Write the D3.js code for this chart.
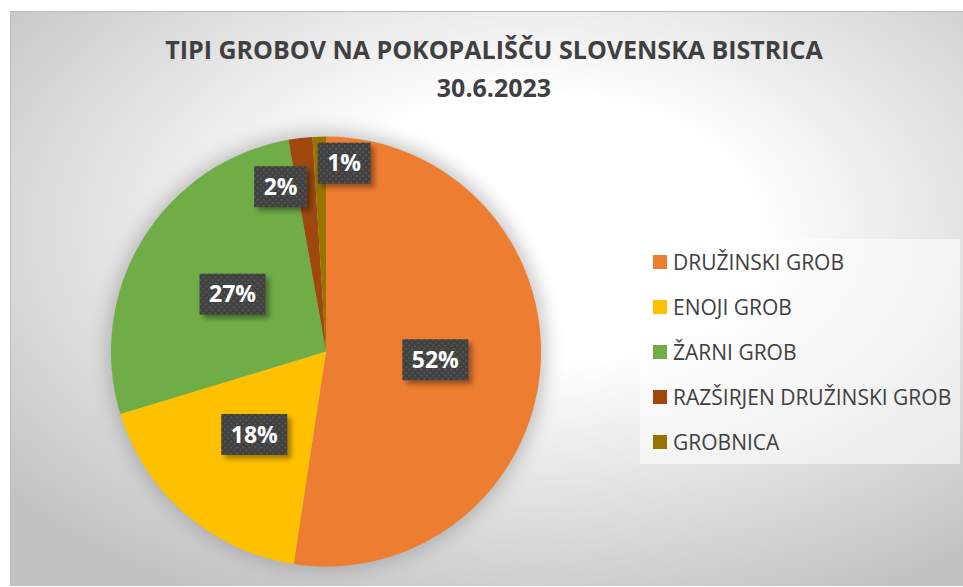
<!DOCTYPE html>
<html>
<head>
<meta charset="utf-8">
<script src="https://cdn.jsdelivr.net/npm/d3@7"></script>
<style>
  html, body { margin: 0; padding: 0; background: #fff; }
  svg { display: block; }
</style>
</head>
<body>
<svg id="chart" width="963" height="587"></svg>
<script>
// Grave types at the Slovenska Bistrica cemetery, share of all graves (%)
const categories = ["DRUŽINSKI GROB", "ENOJI GROB", "ŽARNI GROB", "RAZŠIRJEN DRUŽINSKI GROB", "GROBNICA"];
const shares = [52.4, 17.9, 26.9, 1.8, 1.0];
const colors = ["#ED7D31", "#FFC000", "#70AD47", "#9E480E", "#997300"];
const titleLines = ["TIPI GROBOV NA POKOPALIŠČU SLOVENSKA BISTRICA", "30.6.2023"];

const W = 963, H = 587;
const svg = d3.select("#chart");
const defs = svg.append("defs");

// chart area background: soft radial grey-to-white fill
const bg = defs.append("radialGradient").attr("id", "bgGrad")
  .attr("cx", "0.55").attr("cy", "0.38").attr("r", "0.72");
bg.append("stop").attr("offset", "0").attr("stop-color", "#ffffff");
bg.append("stop").attr("offset", "0.32").attr("stop-color", "#ffffff");
bg.append("stop").attr("offset", "1").attr("stop-color", "#c2c2c2");

// dotted fill for the value label boxes
const pat = defs.append("pattern").attr("id", "dots")
  .attr("patternUnits", "userSpaceOnUse").attr("width", 6).attr("height", 6);
pat.append("rect").attr("width", 6).attr("height", 6).attr("fill", "#404040");
pat.append("rect").attr("x", 0).attr("y", 0).attr("width", 2).attr("height", 2).attr("fill", "#575757");
pat.append("rect").attr("x", 3).attr("y", 3).attr("width", 2).attr("height", 2).attr("fill", "#575757");

const pieShadow = defs.append("filter").attr("id", "pieShadow")
  .attr("x", "-20%").attr("y", "-20%").attr("width", "140%").attr("height", "140%");
pieShadow.append("feGaussianBlur").attr("stdDeviation", 9);

const boxShadow = defs.append("filter").attr("id", "boxShadow")
  .attr("x", "-30%").attr("y", "-30%").attr("width", "160%").attr("height", "160%");
boxShadow.append("feGaussianBlur").attr("stdDeviation", 2.5);

// chart frame
const area = { x: 10, y: 11, w: W - 10, h: H - 12 };
svg.append("rect").attr("x", area.x).attr("y", area.y)
  .attr("width", area.w).attr("height", area.h)
  .attr("fill", "url(#bgGrad)");
svg.append("line").attr("x1", area.x).attr("x2", W).attr("y1", area.y + 0.5).attr("y2", area.y + 0.5)
  .attr("stroke", "#bdbdbd").attr("stroke-width", 1);
svg.append("line").attr("x1", area.x + 0.5).attr("x2", area.x + 0.5).attr("y1", area.y).attr("y2", area.y + area.h)
  .attr("stroke", "#bdbdbd").attr("stroke-width", 1);

// title
const title = svg.append("text").attr("text-anchor", "middle")
  .attr("font-family", "'Open Sans', sans-serif").attr("font-weight", 700)
  .attr("font-size", 25).attr("fill", "#404040");
title.selectAll("tspan").data(titleLines).join("tspan")
  .attr("x", 494).attr("y", (d, i) => 59 + i * 38)
  .text(d => d);

// pie
const cx = 326, cy = 351.5, R = 215;
const pie = d3.pie().sort(null).value(d => d).startAngle(0).endAngle(2 * Math.PI);
const arcs = pie(shares);
const arc = d3.arc().innerRadius(0).outerRadius(R);

const g = svg.append("g").attr("transform", `translate(${cx},${cy})`);
g.append("circle").attr("r", R + 5).attr("fill", "#8a8a8a").attr("opacity", 0.5)
  .attr("filter", "url(#pieShadow)");
g.selectAll("path.slice").data(arcs).join("path")
  .attr("class", "slice")
  .attr("d", arc)
  .attr("fill", (d, i) => colors[i]);

// value labels: centred inside large slices, nudged outward for thin ones
const labelRadius = 0.51;
const labelNudge = { 3: { angle: -15.4, frac: 0.795 }, 4: { angle: 5.5, frac: 0.88 } };
const fmt = d3.format(".0%");
const total = d3.sum(shares);

const labels = g.selectAll("g.lbl").data(arcs).join("g").attr("class", "lbl")
  .attr("transform", (d, i) => {
    let a = (d.startAngle + d.endAngle) / 2, f = labelRadius;
    if (labelNudge[i]) { a = labelNudge[i].angle * Math.PI / 180; f = labelNudge[i].frac; }
    return `translate(${Math.sin(a) * R * f},${-Math.cos(a) * R * f})`;
  });

labels.each(function (d) {
  const sel = d3.select(this);
  const t = sel.append("text").attr("text-anchor", "middle").attr("dy", "0.36em")
    .attr("font-family", "'Open Sans', sans-serif").attr("font-weight", 700)
    .attr("font-size", 23).attr("fill", "#ffffff")
    .text(fmt(d.data / total));
  const bb = t.node().getBBox();
  const bw = Math.round(bb.width + 19), bh = 41;
  sel.insert("rect", "text").attr("x", -bw / 2 + 4).attr("y", -bh / 2 + 4)
    .attr("width", bw).attr("height", bh).attr("fill", "#000").attr("opacity", 0.35)
    .attr("filter", "url(#boxShadow)");
  sel.insert("rect", "text").attr("x", -bw / 2).attr("y", -bh / 2)
    .attr("width", bw).attr("height", bh).attr("fill", "url(#dots)");
});

// legend
const lg = svg.append("g");
lg.append("rect").attr("x", 640).attr("y", 239).attr("width", 320).attr("height", 225)
  .attr("fill", "#ffffff").attr("opacity", 0.55);
const items = lg.selectAll("g.item").data(categories).join("g").attr("class", "item")
  .attr("transform", (d, i) => `translate(653,${262 + i * 45})`);
items.append("rect").attr("x", 0).attr("y", -7).attr("width", 14).attr("height", 14)
  .attr("fill", (d, i) => colors[i]);
items.append("text").attr("x", 20).attr("dy", "0.36em")
  .attr("font-family", "'Open Sans', sans-serif").attr("font-size", 21)
  .attr("fill", "#404040").text(d => d);
</script>
</body>
</html>
